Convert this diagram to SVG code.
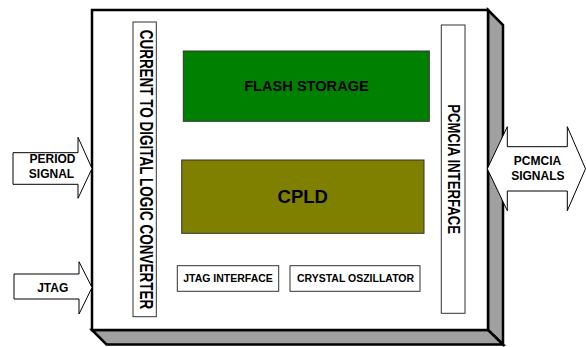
<svg xmlns="http://www.w3.org/2000/svg" width="586" height="347" viewBox="0 0 586 347">
<style>
text{font-family:"Liberation Sans",Arial,sans-serif;font-weight:bold;fill:#000}
.bev{fill:#a0a0a0;stroke:#000;stroke-width:2.5;stroke-linejoin:miter}
.front{fill:#fff;stroke:#000;stroke-width:2.5}
.box{fill:#fff;stroke:#333;stroke-width:1}
.arrow{fill:#fff;stroke:#000;stroke-width:1}
.lbl{font-size:12px;text-anchor:middle}
.small{font-size:10.5px;text-anchor:middle}
</style>
<g id="board">
<polygon class="bev" points="488,10 503,25 503,344.5 488,330"/>
<polygon class="bev" points="92,330 106.5,344.5 503,344.5 488,330"/>
<rect class="front" x="92" y="10" width="396" height="320"/>
</g>
<g id="current-converter">
<rect class="box" x="133" y="22" width="23.3" height="294.7"/>
<text transform="translate(139.8,169.4) rotate(90) scale(1,1.3)" x="0" y="0" font-size="13.5" text-anchor="middle">CURRENT TO DIGITAL LOGIC CONVERTER</text>
</g>
<g id="flash-storage">
<rect x="183.3" y="51" width="246" height="70.3" fill="#008000" stroke="#333" stroke-width="1"/>
<text x="306.5" y="90.7" font-size="14.6" text-anchor="middle">FLASH STORAGE</text>
</g>
<g id="cpld">
<rect x="181.7" y="160" width="242.3" height="73.3" fill="#808000" stroke="#333" stroke-width="1"/>
<text x="302.8" y="202.7" font-size="18.5" text-anchor="middle">CPLD</text>
</g>
<g id="jtag-interface">
<rect class="box" x="177.3" y="265.7" width="101.4" height="25.6"/>
<text class="small" x="228" y="281.7">JTAG INTERFACE</text>
</g>
<g id="crystal-oszillator">
<rect class="box" x="290" y="265.7" width="130" height="25.6"/>
<text class="small" x="355.5" y="281.7">CRYSTAL OSZILLATOR</text>
</g>
<g id="pcmcia-interface">
<rect class="box" x="441.3" y="25" width="23.7" height="288.3"/>
<text transform="translate(448.3,169.2) rotate(90) scale(1,1.29)" x="0" y="0" font-size="13.2" text-anchor="middle">PCMCIA INTERFACE</text>
</g>
<g id="connectors">
<g id="period-signal">
<polygon class="arrow" points="13,152.7 78,152.7 78,137.3 92,168.5 78,198.3 78,184.3 13,184.3"/>
<text class="lbl" x="52.5" y="163.3">PERIOD</text>
<text class="lbl" x="51.5" y="177.6">SIGNAL</text>
</g>
<g id="jtag">
<polygon class="arrow" points="14,274 79,274 79,261.7 92,287.5 79,314 79,299 14,299"/>
<text class="lbl" x="52.7" y="291.7">JTAG</text>
</g>
<g id="pcmcia-signals">
<polygon class="arrow" points="487.3,168.8 507.3,126.7 507.3,146.7 567.3,146.7 567.3,126.7 585.5,168.8 567.3,210.7 567.3,191 507.3,191 507.3,210.7"/>
<text class="lbl" x="537.5" y="165">PCMCIA</text>
<text class="lbl" x="537.8" y="180">SIGNALS</text>
</g>
</g>
</svg>
